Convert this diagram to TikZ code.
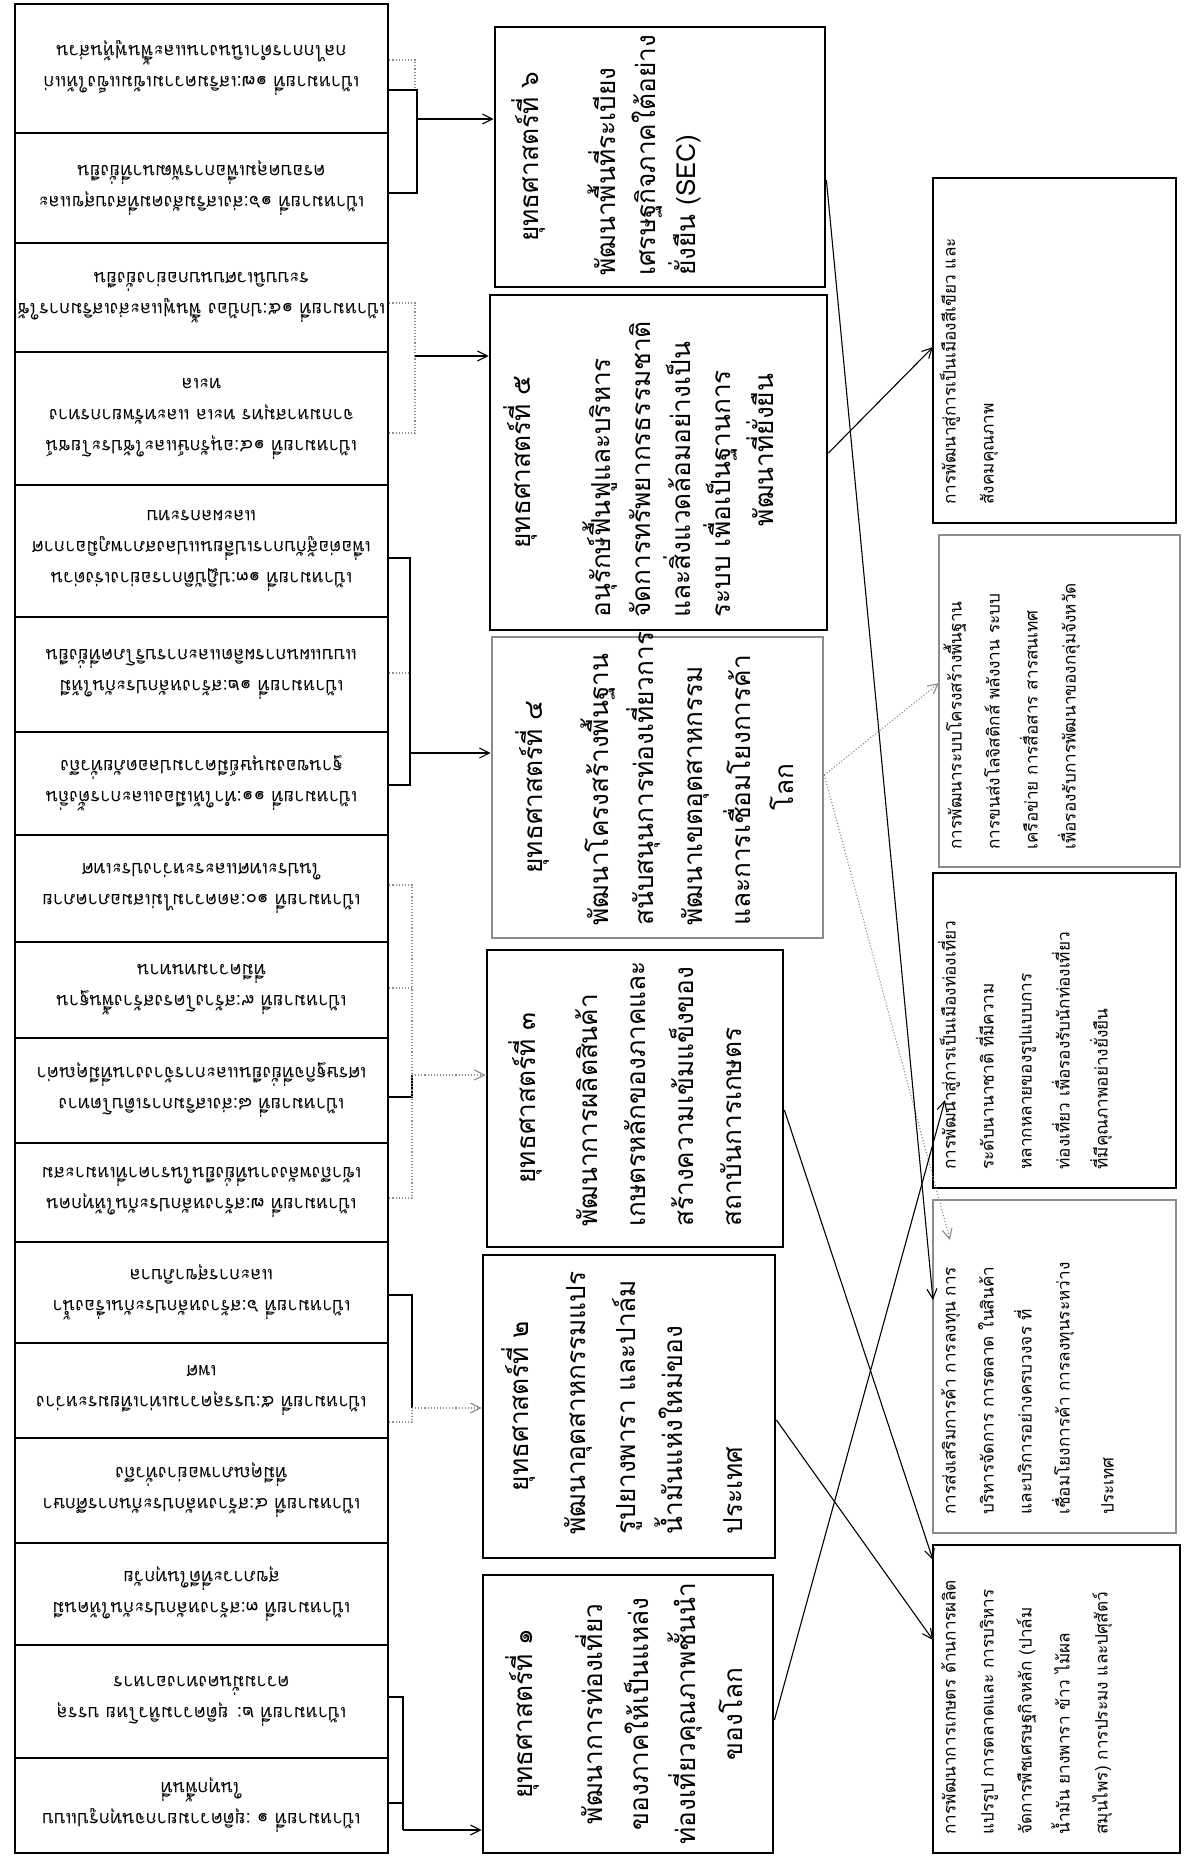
\documentclass[tikz,border=0pt]{standalone}
\usepackage{fontspec}
\newfontfamily\thai[Script=Thai]{Loma}
\usetikzlibrary{fit,arrows.meta}
\begin{document}
\begin{tikzpicture}[x=0.5pt,y=-0.5pt,
  lbox/.style={draw=black, line width=1.3pt, inner sep=0pt},
  sbox/.style={draw=black, line width=1.4pt, inner sep=0pt},
  gbox/.style={draw=black!45, line width=1.3pt, inner sep=0pt},
  ltxt/.style={rotate=180, align=center, inner sep=0pt, font=\thai\fontsize{9.2}{15.5}\selectfont},
  stl/.style={rotate=90, inner sep=0pt, text height=9pt, text depth=4pt, font=\thai\fontsize{13.1}{16}\selectfont},
  rtl/.style={rotate=90, inner sep=0pt, anchor=west, text height=6pt, text depth=2.5pt, font=\thai\fontsize{8.6}{12}\selectfont},
  conn/.style={draw=black, line width=0.55pt},
  gconn/.style={draw=black!45, line width=0.55pt, densely dotted},
  arr/.style={-{Straight Barb[length=5pt,width=5pt]}}
]
\useasboundingbox (0,0) rectangle (1193,1863);
\fill[white] (0,0) rectangle (1193,1863);

% ---------------- left column: goals ----------------
\node[lbox, fit={(15,1758)(388,1853)}] (g1) {};
\node[lbox, fit={(15,1645)(388,1758)}] (g2) {};
\node[lbox, fit={(15,1543)(388,1645)}] (g3) {};
\node[lbox, fit={(15,1438)(388,1543)}] (g4) {};
\node[lbox, fit={(15,1343)(388,1438)}] (g5) {};
\node[lbox, fit={(15,1242)(388,1343)}] (g6) {};
\node[lbox, fit={(15,1143)(388,1242)}] (g7) {};
\node[lbox, fit={(15,1038)(388,1143)}] (g8) {};
\node[lbox, fit={(15,942)(388,1038)}] (g9) {};
\node[lbox, fit={(15,835)(388,942)}] (g10) {};
\node[lbox, fit={(15,732)(388,835)}] (g11) {};
\node[lbox, fit={(15,617)(388,732)}] (g12) {};
\node[lbox, fit={(15,485)(388,617)}] (g13) {};
\node[lbox, fit={(15,352)(388,485)}] (g14) {};
\node[lbox, fit={(15,243)(388,352)}] (g15) {};
\node[lbox, fit={(15,133)(388,243)}] (g16) {};
\node[lbox, fit={(15,4)(388,133)}] (g17) {};

\node[ltxt] (tg1) at (g1.center) {เป้าหมายที่ ๑ :ยุติความยากจนทุกรูปแบบ\\ในทุกพื้นที่};
\node[ltxt] (tg2) at (g2.center) {เป้าหมายที่ ๒: ยุติความหิวโหย บรรลุ\\ความมั่นคงทางอาหาร};
\node[ltxt] (tg3) at (g3.center) {เป้าหมายที่ ๓:สร้างหลักประกันให้คนมี\\สุขภาวะที่ดีในทุกวัย};
\node[ltxt] (tg4) at (g4.center) {เป้าหมายที่ ๔:สร้างหลักประกันการศึกษา\\ที่มีคุณภาพอย่างทั่วถึง};
\node[ltxt] (tg5) at (g5.center) {เป้าหมายที่ ๕:บรรลุความเท่าเทียมระหว่าง\\เพศ};
\node[ltxt] (tg6) at (g6.center) {เป้าหมายที่ ๖:สร้างหลักประกันเรื่องน้ำ\\และการสุขาภิบาล};
\node[ltxt] (tg7) at (g7.center) {เป้าหมายที่ ๗:สร้างหลักประกันให้ทุกคน\\เข้าถึงพลังงานที่ยั่งยืนในราคาที่เหมาะสม};
\node[ltxt] (tg8) at (g8.center) {เป้าหมายที่ ๘:ส่งเสริมการเติบโตทาง\\เศรษฐกิจที่ยั่งยืนและการจ้างงานที่มีคุณค่า};
\node[ltxt] (tg9) at (g9.center) {เป้าหมายที่ ๙:สร้างโครงสร้างพื้นฐาน\\ที่มีความทนทาน};
\node[ltxt] (tg10) at (g10.center) {เป้าหมายที่ ๑๐:ลดความไม่เสมอภาคภาย\\ในประเทศและระหว่างประเทศ};
\node[ltxt] (tg11) at (g11.center) {เป้าหมายที่ ๑๑:ทำให้เมืองและการตั้งถิ่น\\ฐานของมนุษย์มีความปลอดภัยทั่วถึง};
\node[ltxt] (tg12) at (g12.center) {เป้าหมายที่ ๑๒:สร้างหลักประกันให้มี\\แบบแผนการผลิตและการบริโภคที่ยั่งยืน};
\node[ltxt] (tg13) at (g13.center) {เป้าหมายที่ ๑๓:ปฏิบัติการอย่างเร่งด่วน\\เพื่อต่อสู้กับการเปลี่ยนแปลงสภาพภูมิอากาศ\\และผลกระทบ};
\node[ltxt] (tg14) at (g14.center) {เป้าหมายที่ ๑๔:อนุรักษ์และใช้ประโยชน์\\จากมหาสมุทร ทะเล และทรัพยากรทาง\\ทะเล};
\node[ltxt] (tg15) at (g15.center) {เป้าหมายที่ ๑๕:ปกป้อง ฟื้นฟูและส่งเสริมการใช้\\ระบบนิเวศบนบกอย่างยั่งยืน};
\node[ltxt] (tg16) at (g16.center) {เป้าหมายที่ ๑๖:ส่งเสริมสังคมที่สงบสุขและ\\ครอบคลุมเพื่อการพัฒนาที่ยั่งยืน};
\node[ltxt] (tg17) at (g17.center) {เป้าหมายที่ ๑๗:เสริมความเข้มแข็งให้แก่\\กลไกการดำเนินงานและฟื้นฟูหุ้นส่วน};

% ---------------- middle column: strategies ----------------
\node[sbox, fit={(483,1575)(773,1853)}] (s1) {};
\node[sbox, fit={(483,1255)(775,1558)}] (s2) {};
\node[sbox, fit={(487,950)(783,1247)}] (s3) {};
\node[gbox, fit={(492,637)(823,938)}] (s4) {};
\node[sbox, fit={(490,295)(827,630)}] (s5) {};
\node[sbox, fit={(495,27)(825,287)}] (s6) {};

\node[stl] (s1t) at (527,1714) {ยุทธศาสตร์ที่ ๑};
\node[stl] (s1a) at (597,1714) {พัฒนาการท่องเที่ยว};
\node[stl] (s1b) at (643,1714) {ของภาคให้เป็นแหล่ง};
\node[stl] (s1c) at (690,1714) {ท่องเที่ยวคุณภาพชั้นนำ};
\node[stl] (s1d) at (737,1714) {ของโลก};

\node[stl] (s2t) at (523,1406) {ยุทธศาสตร์ที่ ๒};
\node[stl, anchor=west] (s2a) at (580,1535) {พัฒนาอุตสาหกรรมแปร};
\node[stl, anchor=west] (s2b) at (630,1535) {รูปยางพารา และปาล์ม};
\node[stl, anchor=west] (s2c) at (677,1535) {น้ำมันแห่งใหม่ของ};
\node[stl, anchor=west] (s2d) at (737,1535) {ประเทศ};

\node[stl] (s3t) at (530,1098) {ยุทธศาสตร์ที่ ๓};
\node[stl, anchor=west] (s3a) at (592,1227) {พัฒนาการผลิตสินค้า};
\node[stl, anchor=west] (s3b) at (640,1227) {เกษตรหลักของภาคและ};
\node[stl, anchor=west] (s3c) at (688,1227) {สร้างความเข้มแข็งของ};
\node[stl, anchor=west] (s3d) at (736,1227) {สถาบันการเกษตร};

\node[stl] (s4t) at (537,787) {ยุทธศาสตร์ที่ ๔};
\node[stl, anchor=west] (s4a) at (603,926) {พัฒนาโครงสร้างพื้นฐาน};
\node[stl, anchor=west] (s4b) at (648,926) {สนับสนุนการท่องเที่ยวการ};
\node[stl, anchor=west] (s4c) at (697,926) {พัฒนาเขตอุตสาหกรรม};
\node[stl, anchor=west] (s4d) at (745,926) {และการเชื่อมโยงการค้า};
\node[stl] (s4e) at (788,787) {โลก};

\node[stl] (s5t) at (525,462) {ยุทธศาสตร์ที่ ๕};
\node[stl, anchor=west] (s5a) at (605,618) {อนุรักษ์ฟื้นฟูและบริหาร};
\node[stl, anchor=west] (s5b) at (645,618) {จัดการทรัพยากรธรรมชาติ};
\node[stl, anchor=west] (s5c) at (685,618) {และสิ่งแวดล้อมอย่างเป็น};
\node[stl, anchor=west] (s5d) at (725,618) {ระบบ เพื่อเป็นฐานการ};
\node[stl] (s5e) at (768,450) {พัฒนาที่ยั่งยืน};

\node[stl] (s6t) at (533,157) {ยุทธศาสตร์ที่ ๖};
\node[stl, anchor=west] (s6a) at (610,276) {พัฒนาพื้นที่ระเบียง};
\node[stl, anchor=west] (s6b) at (650,276) {เศรษฐกิจภาคใต้อย่าง};
\node[stl, anchor=west] (s6c) at (690,276) {ยั่งยืน (SEC)};

% ---------------- right column: outcomes ----------------
\node[sbox, fit={(933,1545)(1180,1853)}] (r1) {};
\node[gbox, fit={(933,1200)(1176,1533)}] (r2) {};
\node[sbox, fit={(933,873)(1176,1188)}] (r3) {};
\node[gbox, fit={(939,535)(1180,867)}] (r4) {};
\node[sbox, fit={(933,178)(1176,523)}] (r5) {};

\node[rtl] (r1a) at (952,1835) {การพัฒนาการเกษตร ด้านการผลิต};
\node[rtl] (r1b) at (990,1835) {แปรรูป การตลาดและ การบริหาร};
\node[rtl] (r1c) at (1028,1835) {จัดการพืชเศรษฐกิจหลัก (ปาล์ม};
\node[rtl] (r1d) at (1066,1835) {น้ำมัน ยางพารา ข้าว ไม้ผล};
\node[rtl] (r1e) at (1104,1835) {สมุนไพร) การประมง และปศุสัตว์};

\node[rtl] (r2a) at (952,1515) {การส่งเสริมการค้า การลงทุน การ};
\node[rtl] (r2b) at (990,1515) {บริหารจัดการ การตลาด ในสินค้า};
\node[rtl] (r2c) at (1028,1515) {และบริการอย่างครบวงจร ที่};
\node[rtl] (r2d) at (1066,1515) {เชื่อมโยงการค้า การลงทุนระหว่าง};
\node[rtl] (r2e) at (1110,1515) {ประเทศ};

\node[rtl] (r3a) at (952,1170) {การพัฒนาสู่การเป็นเมืองท่องเที่ยว};
\node[rtl] (r3b) at (990,1170) {ระดับนานาชาติ ที่มีความ};
\node[rtl] (r3c) at (1028,1170) {หลากหลายของรูปแบบการ};
\node[rtl] (r3d) at (1066,1170) {ท่องเที่ยว เพื่อรองรับนักท่องเที่ยว};
\node[rtl] (r3e) at (1104,1170) {ที่มีคุณภาพอย่างยั่งยืน};

\node[rtl] (r4a) at (958,850) {การพัฒนาระบบโครงสร้างพื้นฐาน};
\node[rtl] (r4b) at (996,850) {การขนส่งโลจิสติกส์ พลังงาน ระบบ};
\node[rtl] (r4c) at (1034,850) {เครือข่าย การสื่อสาร สารสนเทศ};
\node[rtl] (r4d) at (1072,850) {เพื่อรองรับการพัฒนาของกลุ่มจังหวัด};

\node[rtl] (r5a) at (952,505) {การพัฒนาสู่การเป็นเมืองสีเขียว และ};
\node[rtl] (r5b) at (990,505) {สังคมคุณภาพ};

% ---------------- connectors: goals -> strategies ----------------
\coordinate (b6) at (417,119);
\coordinate (b5) at (415,356);
\coordinate (b4) at (410,753);
\coordinate (b3) at (412,1075);
\coordinate (b2) at (412,1408);
\coordinate (b1) at (403,1830);

\draw[conn] (g17.east |- 0,90) -- (417,90) -- (b6);
\draw[gconn] (g17.east |- 0,60) -- (415,60) -- (415,90);
\draw[conn] (g16.east |- 0,193) -- (417,193) -- (b6);
\draw[arr,conn] (b6) -- (s6.west |- b6);

\draw[gconn] (g15.east |- 0,303) -- (415,303) -- (b5);
\draw[gconn] (g14.east |- 0,433) -- (415,433) -- (b5);
\draw[arr,conn] (b5) -- (s5.west |- b5);

\draw[conn] (g13.east |- 0,558) -- (410,558) -- (b4);
\draw[gconn] (g12.east |- 0,673) -- (410,673);
\draw[conn] (g11.east |- 0,785) -- (410,785) -- (b4);
\draw[arr,conn] (b4) -- (s4.west |- b4);

\draw[gconn] (g10.east |- 0,885) -- (412,885) -- (b3);
\draw[gconn] (g9.east |- 0,988) -- (412,988);
\draw[conn] (g8.east |- 0,1097) -- (412,1097) -- (b3);
\draw[gconn] (g7.east |- 0,1198) -- (412,1198) -- (b3);
\draw[arr,gconn] (b3) -- (s3.west |- b3);

\draw[conn] (g6.east |- 0,1295) -- (412,1295) -- (b2);
\draw[gconn] (g5.east |- 0,1422) -- (412,1422) -- (b2);
\draw[arr,gconn] (b2) -- (s2.west |- b2);

\draw[conn] (g2.east |- 0,1697) -- (403,1697) -- (b1);
\draw[conn] (g1.east |- 0,1803) -- (403,1803);
\draw[arr,conn] (b1) -- (s1.west |- b1);

% ---------------- connectors: strategies -> outcomes ----------------
\coordinate (e5) at (933,347);
\coordinate (e4) at (939,683);
\coordinate (e42) at (950,1240);
\coordinate (e6) at (933,1300);
\coordinate (e1) at (945,1100);
\coordinate (e2) at (933,1640);
\coordinate (e3) at (933,1560);

\draw[arr,conn] (s5.east |- 0,453) -- (e5);
\draw[arr,gconn] (s4.east |- 0,775) -- (e4);
\draw[arr,gconn] (s4.east |- 0,775) -- (e42);
\draw[arr,conn] (s6.east |- 0,180) -- (e6);
\draw[arr,conn] (s1.east |- 0,1720) -- (e1);
\draw[arr,conn] (s2.east |- 0,1420) -- (e2);
\draw[arr,conn] (s3.east |- 0,1110) -- (e3);
\end{tikzpicture}
\end{document}
